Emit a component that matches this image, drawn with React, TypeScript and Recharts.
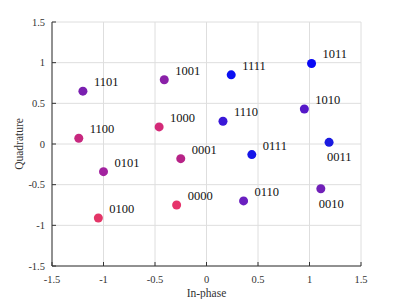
import { CartesianGrid, Cell, Scatter, ScatterChart, XAxis, YAxis, ZAxis } from "recharts"

document.body.style.margin = "0"

// 16-QAM constellation
const symbols = ["0000", "0001", "0010", "0011", "0100", "0101", "0110", "0111", "1000", "1001", "1010", "1011", "1100", "1101", "1110", "1111"]
const inPhase = [-0.29, -0.25, 1.11, 1.19, -1.05, -1.0, 0.36, 0.44, -0.46, -0.41, 0.95, 1.02, -1.24, -1.2, 0.16, 0.24]
const quadrature = [-0.75, -0.18, -0.55, 0.02, -0.91, -0.34, -0.7, -0.13, 0.21, 0.79, 0.43, 0.99, 0.07, 0.65, 0.28, 0.85]
const ticks = [-1.5, -1, -0.5, 0, 0.5, 1, 1.5]

// labels drawn under the marker instead of up-right
const labelsBelow = ["0010", "0011"]

const pointColors = [
  "#e6336b", "#b72387", "#7020b8", "#1a1ae0",
  "#e33567", "#a2229f", "#6a1fc0", "#1515e8",
  "#d32a78", "#8a20a8", "#5518c8", "#0808f5",
  "#c7287f", "#7a1fb0", "#3a18d8", "#0a10f2",
]

const data = symbols.map((s, i) => ({ symbol: s, i: inPhase[i], q: quadrature[i] }))

const serif = { fontFamily: "Liberation Serif, Times New Roman, serif" }

function Point(props: any) {
  const { cx, cy, fill, payload } = props
  const below = labelsBelow.includes(payload.symbol)
  return (
    <g>
      <circle cx={cx} cy={cy} r={4.5} fill={fill} />
      <text
        x={below ? cx - 2 : cx + 11}
        y={below ? cy + 19 : cy - 5}
        style={serif}
        fontSize={12.5}
        fill="#111"
      >
        {payload.symbol}
      </text>
    </g>
  )
}

function XTick(props: any) {
  const { x, y, payload } = props
  return (
    <g>
      <line x1={x} x2={x} y1={266} y2={262} stroke="#333" />
      <text x={x} y={y + 9} textAnchor="middle" style={serif} fontSize={10.5} fill="#333">
        {payload.value}
      </text>
    </g>
  )
}

function YTick(props: any) {
  const { x, y, payload } = props
  return (
    <g>
      <line x1={52} x2={56} y1={y} y2={y} stroke="#333" />
      <text x={x + 1} y={y + 3.5} textAnchor="end" style={serif} fontSize={10.5} fill="#333">
        {payload.value}
      </text>
    </g>
  )
}

export default function App() {
  return (
    <ScatterChart width={399} height={299} margin={{ top: 22, right: 38, bottom: 0, left: 8 }}>
      <CartesianGrid stroke="#dedede" strokeWidth={1} />
      <XAxis
        type="number"
        dataKey="i"
        domain={[-1.5, 1.5]}
        ticks={ticks}
        height={33}
        stroke="#333"
        tickLine={false}
        tick={<XTick />}
        label={(p: any) => (
          <text
            x={p.viewBox.x + p.viewBox.width / 2}
            y={297}
            textAnchor="middle"
            style={serif}
            fontSize={11.5}
            fill="#333"
          >
            In-phase
          </text>
        )}
      />
      <YAxis
        type="number"
        dataKey="q"
        domain={[-1.5, 1.5]}
        ticks={ticks}
        width={44}
        stroke="#333"
        tickLine={false}
        tick={<YTick />}
        label={(p: any) => (
          <text
            x={20}
            y={p.viewBox.y + p.viewBox.height / 2}
            textAnchor="middle"
            transform={`rotate(-90 20 ${p.viewBox.y + p.viewBox.height / 2})`}
            style={serif}
            fontSize={11.5}
            fill="#333"
            dy={3}
          >
            Quadrature
          </text>
        )}
      />
      <ZAxis range={[64, 64]} />
      <Scatter data={data} shape={<Point />} isAnimationActive={false}>
        {data.map((d, idx) => (
          <Cell key={d.symbol} fill={pointColors[idx]} />
        ))}
      </Scatter>
    </ScatterChart>
  )
}
